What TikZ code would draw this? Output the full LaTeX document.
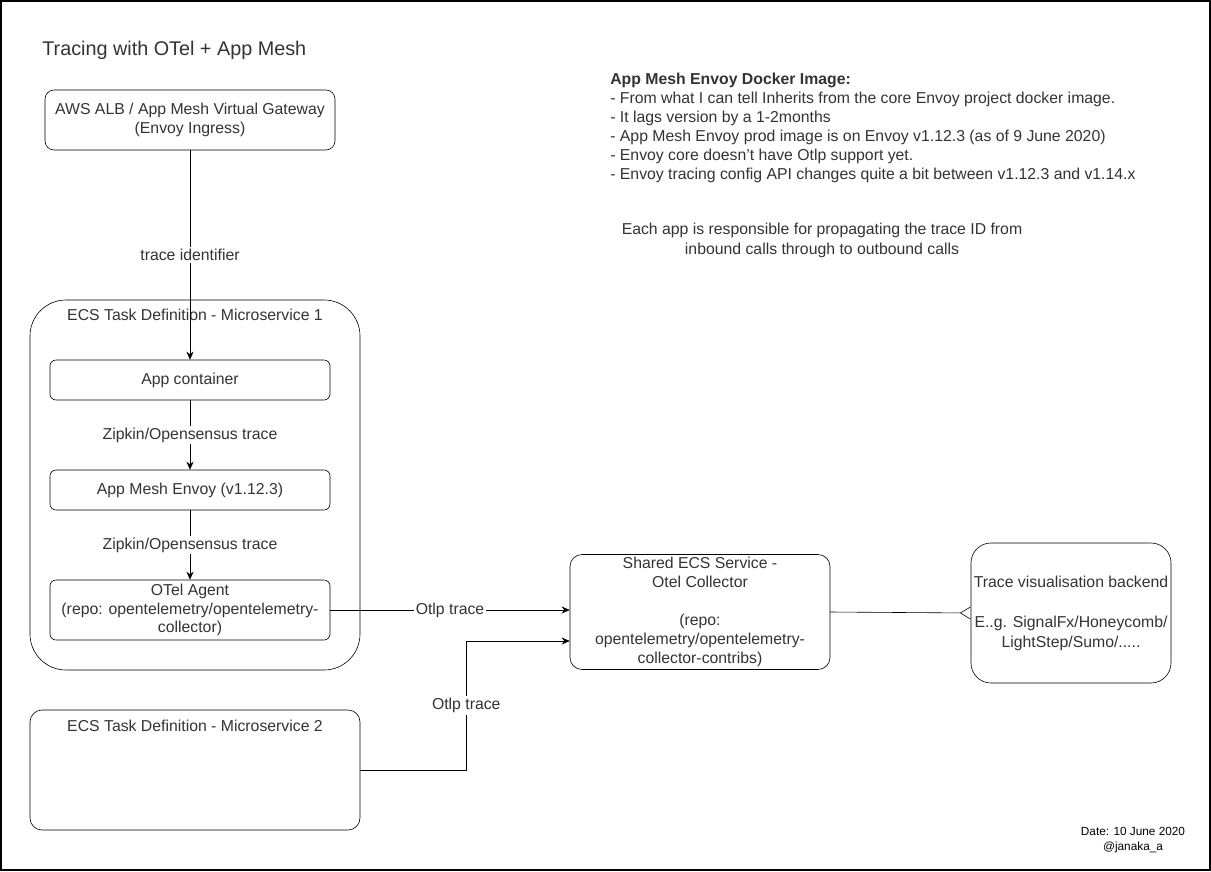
\documentclass[tikz,border=0pt]{standalone}
\usepackage{fontspec}
\setmainfont{Liberation Sans}
\usepackage{tikz}
\usetikzlibrary{arrows.meta,positioning,calc,shapes}
\definecolor{inkgrey}{HTML}{333333}

\begin{document}
\begin{tikzpicture}[->,>={Stealth[length=8pt,width=7pt]},
x=1pt,y=-1pt,semithick,
every node/.style={text=inkgrey,inner sep=0pt,font=\fontsize{15.8}{19}\selectfont}]

\tikzstyle{box}=[rectangle, rounded corners=6pt, draw=black, text centered, align=center]
\tikzstyle{lbl}=[fill=white, inner sep=2pt]

\useasboundingbox (0,0) rectangle (1211,871);
\draw[-,line width=2pt] (1,1) rectangle (1210,870);

%title
\node[anchor=west, font=\fontsize{19.8}{23}\selectfont] (title) at (42,50) {Tracing with OTel + App Mesh};

%ingress
\node[box, minimum width=290pt, minimum height=60pt, rounded corners=9pt] (gw) at (190,120)
{AWS ALB / App Mesh Virtual Gateway\\(Envoy Ingress)};

%microservice 1
\node[box, minimum width=330pt, minimum height=370pt, rounded corners=36pt] (ms1) at (195,485) {};
\node (ms1lbl) at ($(ms1.north)+(0,15)$) {ECS Task Definition - Microservice 1};

\node[box, minimum width=280pt, minimum height=40pt] (app) at (190,380) {App container};
\node[box, minimum width=280pt, minimum height=40pt] (envoy) at (190,490) {App Mesh Envoy (v1.12.3)};
\node[box, minimum width=280pt, minimum height=60pt, font=\fontsize{15.8}{18.5}\selectfont] (agent) at (190,610)
{OTel Agent\\(repo: opentelemetry/opentelemetry-\\collector)};

%microservice 2
\node[box, minimum width=330pt, minimum height=120pt, rounded corners=12pt] (ms2) at (195,770) {};
\node (ms2lbl) at ($(ms2.north)+(0,16)$) {ECS Task Definition - Microservice 2};

%collector
\node[box, minimum width=260pt, minimum height=115pt, rounded corners=12pt] (coll) at (700,612)
{Shared ECS Service -\\Otel Collector\\[19pt](repo:\\opentelemetry/opentelemetry-\\collector-contribs)};

%backend
\node[box, minimum width=200pt, minimum height=140pt, rounded corners=20pt, font=\fontsize{15.8}{20}\selectfont] (back) at (1071,613)
{Trace visualisation backend\\[20pt]E..g. SignalFx/Honeycomb/\\LightStep/Sumo/.....};

%notes
\node[anchor=west, align=left] (notes) at (610,127.5)
{\textbf{App Mesh Envoy Docker Image:}\\
- From what I can tell Inherits from the core Envoy project docker image.\\
- It lags version by a 1-2months\\
- App Mesh Envoy prod image is on Envoy v1.12.3 (as of 9 June 2020)\\
- Envoy core doesn{\char"27}t have Otlp support yet.\\
- Envoy tracing config API changes quite a bit between v1.12.3 and v1.14.x};

\node[align=center, font=\fontsize{15.8}{20}\selectfont] (resp) at (822,240)
{Each app is responsible for propagating the trace ID from\\inbound calls through to outbound calls};

%date
\node[align=center, text=black, font=\fontsize{11.8}{15}\selectfont] (date) at (1133,840)
{Date: 10 June 2020\\@janaka\_a};

%connectors
\draw (gw) -- node[lbl] {trace identifier} (app);
\draw (app) -- node[lbl] {Zipkin/Opensensus trace} (envoy);
\draw (envoy) -- node[lbl] {Zipkin/Opensensus trace} (agent);
\draw (agent.east) -- node[lbl] {Otlp trace} (agent.east -| coll.west);
\draw (ms2.east) -- ++(106,0) |- node[lbl, pos=0.25] {Otlp trace} ($(coll.west)+(0,29)$);
\draw[-{Straight Barb[reversed,length=10pt,width=12pt]}] (coll.east) -- (back.west);

\end{tikzpicture}
\end{document}
